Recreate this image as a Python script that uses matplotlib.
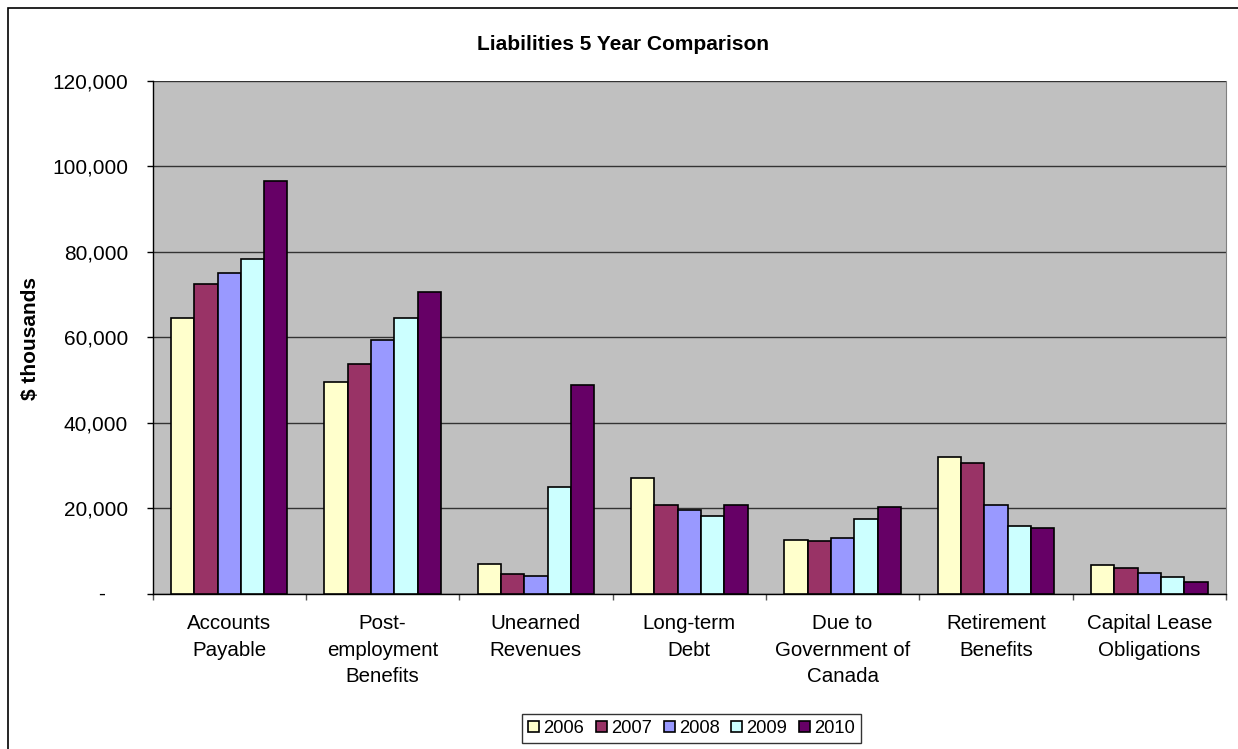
import numpy as np
import matplotlib

matplotlib.use("Agg")
import matplotlib.pyplot as plt
from matplotlib.patches import Rectangle
from matplotlib.ticker import FuncFormatter, FixedLocator

plt.rcParams["font.family"] = ["Liberation Sans", "DejaVu Sans"]

categories = [
    "Accounts\nPayable",
    "Post-\nemployment\nBenefits",
    "Unearned\nRevenues",
    "Long-term\nDebt",
    "Due to\nGovernment of\nCanada",
    "Retirement\nBenefits",
    "Capital Lease\nObligations",
]
years = ["2006", "2007", "2008", "2009", "2010"]

# $ thousands, one list per year in category order
v2006 = [64400, 49600, 6950, 27000, 12600, 31900, 6650]
v2007 = [72400, 53800, 4450, 20700, 12350, 30550, 6000]
v2008 = [75100, 59400, 4150, 19600, 12950, 20700, 4850]
v2009 = [78300, 64400, 24900, 18200, 17500, 15800, 3850]
v2010 = [96600, 70600, 48800, 20700, 20300, 15400, 2750]
series = [v2006, v2007, v2008, v2009, v2010]

colors = ["#FFFFCC", "#993366", "#9999FF", "#CCFFFF", "#660066"]

W, H = 1238, 749
fig = plt.figure(figsize=(W / 100, H / 100), dpi=100)
fig.patch.set_facecolor("white")

# chart-area border (right and bottom edges fall off the canvas)
fig.patches.append(Rectangle((8 / W, -0.01), 1.05, 1 - 8 / H + 0.01,
                             transform=fig.transFigure, fill=False,
                             edgecolor="black", linewidth=1.2))

left, right, top, bottom = 152.5, 1226, 81, 593.5
ax = fig.add_axes([left / W, 1 - bottom / H, (right - left) / W, (bottom - top) / H])
ax.set_facecolor("#C0C0C0")

n = len(years)
bar_w = 0.152
x = np.arange(len(categories))
for i, (vals, col, yr) in enumerate(zip(series, colors, years)):
    offs = (i - (n - 1) / 2) * bar_w
    ax.bar(x + offs, vals, width=bar_w, color=col, edgecolor="black",
           linewidth=1.2, label=yr, zorder=3)

ax.set_xlim(-0.5, len(categories) - 0.5)
ax.set_ylim(0, 120000)
ax.set_yticks(np.arange(0, 120001, 20000))
# zero is shown as a dash set further left, accounting style
ax.yaxis.set_major_formatter(FuncFormatter(lambda v, p: "" if v == 0 else f"{v:,.0f}"))
ax.yaxis.grid(True, color="#333333", linewidth=1.0, zorder=1)
ax.set_axisbelow(True)
fig.text(102 / W, 1 - 594 / H, "-", ha="center", va="center", fontsize=15)

ax.set_xticks(x)
ax.set_xticklabels(categories, fontsize=14.8, linespacing=1.5)
ax.xaxis.set_minor_locator(FixedLocator(np.arange(-0.5, len(categories), 1.0)))
ax.tick_params(axis="x", which="major", length=0, pad=15)
ax.tick_params(axis="x", which="minor", length=4.3, width=1, color="#555555")
ax.tick_params(axis="y", length=4.3, width=1, labelsize=15, pad=13.3, color="black")

for s in ["left", "bottom"]:
    ax.spines[s].set_color("black")
    ax.spines[s].set_linewidth(1.0)
ax.spines["right"].set_color("#808080")
ax.spines["top"].set_visible(False)

fig.text(30 / W, 1 - 338 / H, "$ thousands", rotation=90, ha="center", va="center",
         fontsize=15, fontweight="bold")
fig.text(623 / W, 1 - 45 / H, "Liabilities 5 Year Comparison",
         ha="center", va="center", fontsize=15, fontweight="bold")

leg = fig.legend(loc="center", bbox_to_anchor=(691.5 / W, 1 - 728.5 / H), ncol=5,
                 fontsize=13.2, frameon=True, fancybox=False, edgecolor="black",
                 handlelength=0.6, handleheight=0.6, handletextpad=0.22,
                 columnspacing=0.65, borderpad=0.35, borderaxespad=0)
leg.get_frame().set_linewidth(1.0)

fig.savefig("out.png", dpi=100)
